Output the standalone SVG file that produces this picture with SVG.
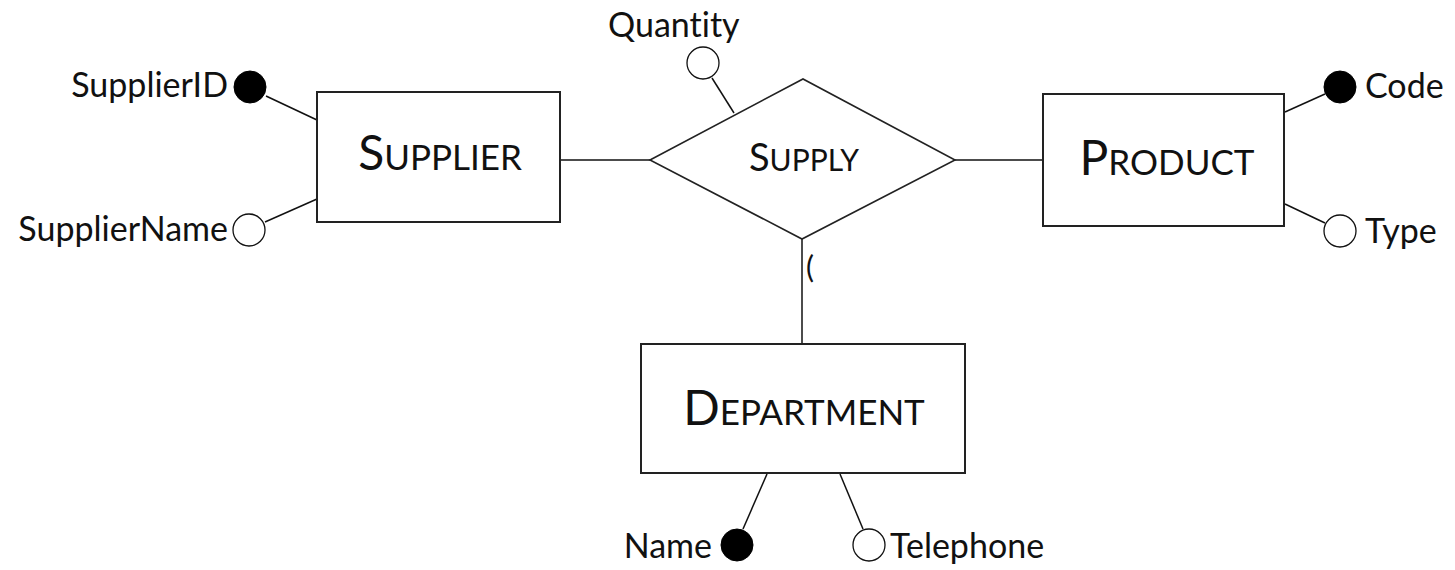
<svg xmlns="http://www.w3.org/2000/svg" width="1455" height="570" viewBox="0 0 1455 570">
  <style>
    .entity { fill: #ffffff; stroke: #222222; stroke-width: 2; }
    .rel { fill: #ffffff; stroke: #222222; stroke-width: 1.6; }
    .link { stroke: #111111; stroke-width: 1.5; fill: none; }
    .key { fill: #000000; stroke: #000000; stroke-width: 1; }
    .attr { fill: #ffffff; stroke: #111111; stroke-width: 1.3; }
    .lbl { font-family: Lato, "Liberation Sans", sans-serif; fill: #111111; font-variant-ligatures: none; }
    .att { font-size: 34px; }
    .big { font-size: 48px; }
    .sm { font-size: 35px; }
    .rbig { font-size: 38px; }
    .rsm { font-size: 30px; }
  </style>

  <!-- relationship and attribute connectors -->
  <g id="connectors">
    <line class="link" x1="560" y1="160" x2="650" y2="160"/>
    <line class="link" x1="955" y1="160" x2="1043" y2="160"/>
    <line class="link" x1="802" y1="239" x2="802" y2="344"/>
    <line class="link" x1="266" y1="96" x2="317" y2="120"/>
    <line class="link" x1="265" y1="222" x2="317" y2="199"/>
    <line class="link" x1="712" y1="78" x2="734" y2="113"/>
    <line class="link" x1="1285" y1="112" x2="1325" y2="94"/>
    <line class="link" x1="1285" y1="204" x2="1325" y2="223"/>
    <line class="link" x1="767" y1="474" x2="743" y2="529"/>
    <line class="link" x1="840" y1="474" x2="863" y2="529"/>
  </g>

  <g id="supplier">
    <rect class="entity" x="317" y="92" width="243" height="130"/>
    <text class="lbl" x="440" y="170" text-anchor="middle"><tspan class="big">S</tspan><tspan class="sm">UPPLIER</tspan></text>
  </g>

  <g id="supply">
    <polygon class="rel" points="650,160 803,79 955,160 802,239"/>
    <text class="lbl" x="804" y="171" text-anchor="middle"><tspan class="rbig">S</tspan><tspan class="rsm">UPPLY</tspan></text>
    <text class="lbl" x="806" y="278" font-size="30">(</text>
  </g>

  <g id="product">
    <rect class="entity" x="1043" y="94" width="241" height="132"/>
    <text class="lbl" x="1167" y="175" text-anchor="middle"><tspan class="big">P</tspan><tspan class="sm">RODUCT</tspan></text>
  </g>

  <g id="department">
    <rect class="entity" x="641" y="344" width="324" height="129"/>
    <text class="lbl" x="804" y="425" text-anchor="middle"><tspan class="big">D</tspan><tspan class="sm">EPARTMENT</tspan></text>
  </g>

  <g id="attr-supplierid">
    <circle class="key" cx="250" cy="87" r="16"/>
    <text class="lbl att" x="228" y="97" text-anchor="end">SupplierID</text>
  </g>
  <g id="attr-suppliername">
    <circle class="attr" cx="249" cy="230" r="16"/>
    <text class="lbl att" x="228" y="241" text-anchor="end">SupplierName</text>
  </g>
  <g id="attr-quantity">
    <circle class="attr" cx="703" cy="63" r="16"/>
    <text class="lbl att" x="608" y="37">Quantity</text>
  </g>
  <g id="attr-code">
    <circle class="key" cx="1340" cy="87" r="16"/>
    <text class="lbl att" x="1365" y="98">Code</text>
  </g>
  <g id="attr-type">
    <circle class="attr" cx="1340" cy="231" r="16"/>
    <text class="lbl att" x="1365" y="243">Type</text>
  </g>
  <g id="attr-name">
    <circle class="key" cx="737" cy="545" r="16"/>
    <text class="lbl att" x="712" y="558" text-anchor="end">Name</text>
  </g>
  <g id="attr-telephone">
    <circle class="attr" cx="869" cy="545" r="16"/>
    <text class="lbl att" x="890" y="558">Telephone</text>
  </g>
</svg>
